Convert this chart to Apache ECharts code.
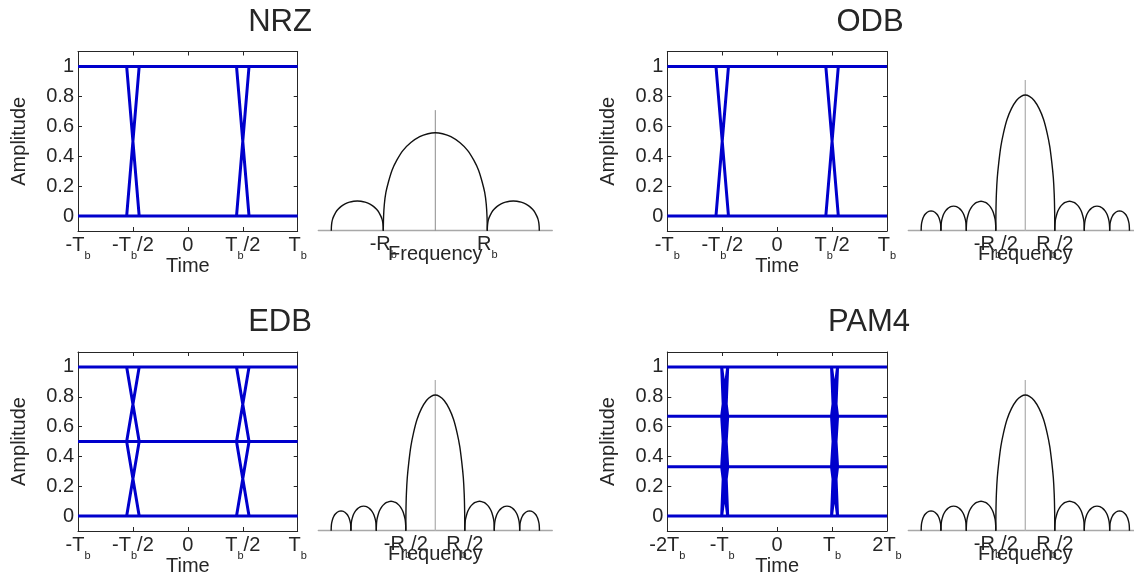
<!DOCTYPE html>
<html><head><meta charset="utf-8">
<script src="https://cdn.jsdelivr.net/npm/echarts@6/dist/echarts.min.js"></script>
<style>html,body{margin:0;padding:0;background:#fff}#c{width:1134px;height:579px}</style>
</head><body><div id="c"></div>
<script>
// ---------------- data ----------------
const panelTitles = ['NRZ', 'ODB', 'EDB', 'PAM4'];

const eyeYTicks = [0, 0.2, 0.4, 0.6, 0.8, 1];
const eyeYTickLabels = ['0', '0.2', '0.4', '0.6', '0.8', '1'];
const eyeXTicks = [-1, -0.5, 0, 0.5, 1];
const eyeXTickLabels = ['{m|-T}{s|b}', '{m|-T}{s|b}{m|/2}', '{m|0}', '{m|T}{s|b}{m|/2}', '{m|T}{s|b}'];
const pamXTicks = [-2, -1, 0, 1, 2];
const pamXTickLabels = ['{m|-2T}{s|b}', '{m|-T}{s|b}', '{m|0}', '{m|T}{s|b}', '{m|2T}{s|b}'];

// eye diagrams: signal levels, crossing times, half transition width
const nrzLevels = [0, 1];
const odbLevels = [0, 1];
const edbLevels = [0, 0.5, 1];
const pamLevels = [0, 0.33, 0.67, 1];
const nrzEdges = [-0.5, 0.5];
const odbEdges = [-0.5, 0.5];
const edbEdges = [-0.5, 0.5];
const pamEdges = [-0.955, 1.045];
const nrzHalfRise = 0.057;
const odbHalfRise = 0.057;
const edbHalfRise = 0.057;
const pamHalfRise = 0.055;

// spectra: lobes as [start, end, peak height]
const nrzSpecTicks = [-1, 1];
const nrzSpecLabels = ['{m|-R}{s|b}', '{m|R}{s|b}'];
const duoSpecTicks = [-0.5, 0.5];
const duoSpecLabels = ['{m|-R}{s|b}{m|/2}', '{m|R}{s|b}{m|/2}'];
const nrzLobes = [[-2, -1, 0.197], [-1, 1, 0.65], [1, 2, 0.197]];
const duoLobes = [[-1.765, -1.43, 0.131], [-1.43, -1.0, 0.163], [-1.0, -0.5, 0.195],
                  [-0.5, 0.5, 0.9],
                  [0.5, 1.0, 0.195], [1.0, 1.43, 0.163], [1.43, 1.765, 0.131]];
// lobe outline (left half, position across lobe 0..0.5, relative height)
const archT = [0, 0.0025, 0.01, 0.025, 0.05, 0.085, 0.13, 0.19, 0.265, 0.35, 0.43, 0.5];
const archH = [0, 0.14, 0.27, 0.39, 0.5, 0.62, 0.72, 0.82, 0.9, 0.96, 0.99, 1];
const nrzCenterLineTop = 0.8;
const duoCenterLineTop = 1.0;
const nrzSpecRange = [-2.25, 2.25];
const duoSpecRange = [-1.983, 1.983];

// ---------------- styling / layout ----------------
const FONT = "'Liberation Sans', Arial, Helvetica, sans-serif";
const INK = '#262626';
const BLUE = '#0000cc';

const eyeGrids = [
  {left: 78, top: 51.5, width: 219.7, height: 179.5},
  {left: 667.3, top: 51.5, width: 219.7, height: 179.5},
  {left: 78, top: 352, width: 219.7, height: 179},
  {left: 667.3, top: 352, width: 219.7, height: 179}
];
const specGrids = [
  {left: 318.3, top: 80, width: 234, height: 150.7},
  {left: 908.3, top: 80, width: 234, height: 150.7},
  {left: 318.3, top: 380, width: 234, height: 150.7},
  {left: 908.3, top: 380, width: 234, height: 150.7}
];
const titlePos = [[280, 7], [870, 7], [280, 307], [869, 307]];

const RICH = {
  m: {fontSize: 20, lineHeight: 20, fontFamily: FONT, color: INK, verticalAlign: 'top'},
  s: {fontSize: 11, lineHeight: 11, fontFamily: FONT, color: INK, verticalAlign: 'top', padding: [15, 0, 0, 0]}
};

function pick(ticks, labels, v) {
  for (let i = 0; i < ticks.length; i++) if (Math.abs(ticks[i] - v) < 1e-9) return labels[i];
  return '';
}

const eyePanels = [
  {levels: nrzLevels, edges: nrzEdges, w: nrzHalfRise, adjOnly: true, range: [-1, 1], ticks: eyeXTicks, labels: eyeXTickLabels},
  {levels: odbLevels, edges: odbEdges, w: odbHalfRise, adjOnly: true, range: [-1, 1], ticks: eyeXTicks, labels: eyeXTickLabels},
  {levels: edbLevels, edges: edbEdges, w: edbHalfRise, adjOnly: true, range: [-1, 1], ticks: eyeXTicks, labels: eyeXTickLabels},
  {levels: pamLevels, edges: pamEdges, w: pamHalfRise, adjOnly: false, range: [-2, 2], ticks: pamXTicks, labels: pamXTickLabels}
];
const specPanels = [
  {lobes: nrzLobes, range: nrzSpecRange, ticks: nrzSpecTicks, labels: nrzSpecLabels, cl: nrzCenterLineTop, clColor: '#8c8c8c', clW: 1},
  {lobes: duoLobes, range: duoSpecRange, ticks: duoSpecTicks, labels: duoSpecLabels, cl: duoCenterLineTop, clColor: '#b4b4b4', clW: 1.3},
  {lobes: duoLobes, range: duoSpecRange, ticks: duoSpecTicks, labels: duoSpecLabels, cl: duoCenterLineTop, clColor: '#b4b4b4', clW: 1.3},
  {lobes: duoLobes, range: duoSpecRange, ticks: duoSpecTicks, labels: duoSpecLabels, cl: duoCenterLineTop, clColor: '#b4b4b4', clW: 1.3}
];

const grid = [], xAxis = [], yAxis = [], series = [], title = [];
const GAP = ['-', '-'];

panelTitles.forEach((t, i) => {
  title.push({text: t, left: titlePos[i][0], top: titlePos[i][1], textAlign: 'center', padding: 0,
    textStyle: {fontSize: 31, lineHeight: 31, fontWeight: 'normal', fontFamily: FONT, color: INK}});
});

eyePanels.forEach((p, i) => {
  const gi = grid.length;
  grid.push(Object.assign({outerBoundsMode: 'none', containLabel: false}, eyeGrids[i]));
  const xb = xAxis.length;
  const tickStyle = {show: true, inside: true, length: 4, lineStyle: {color: INK, width: 1}};
  xAxis.push({type: 'value', gridIndex: gi, position: 'bottom', min: p.range[0], max: p.range[1],
    axisLine: {show: true, onZero: false, lineStyle: {color: INK, width: 1}},
    axisTick: Object.assign({customValues: p.ticks}, tickStyle),
    axisLabel: {show: true, customValues: p.ticks, formatter: v => pick(p.ticks, p.labels, v), margin: 4,
      fontSize: 20, fontFamily: FONT, color: INK, rich: RICH},
    splitLine: {show: false},
    name: 'Time', nameLocation: 'middle', nameGap: 25, nameMoveOverlap: false,
    nameTextStyle: {fontSize: 20, lineHeight: 20, fontFamily: FONT, color: INK}});
  xAxis.push({type: 'value', gridIndex: gi, position: 'top', min: p.range[0], max: p.range[1],
    axisLine: {show: true, onZero: false, lineStyle: {color: INK, width: 1}},
    axisTick: Object.assign({customValues: p.ticks}, tickStyle),
    axisLabel: {show: false}, splitLine: {show: false}});
  const yl = yAxis.length;
  yAxis.push({type: 'value', gridIndex: gi, position: 'left', min: -0.1, max: 1.1,
    axisLine: {show: true, onZero: false, lineStyle: {color: INK, width: 1}},
    axisTick: Object.assign({customValues: eyeYTicks}, tickStyle),
    axisLabel: {show: true, customValues: eyeYTicks, formatter: v => pick(eyeYTicks, eyeYTickLabels, v), margin: 4,
      fontSize: 20, fontFamily: FONT, color: INK},
    splitLine: {show: false},
    name: 'Amplitude', nameLocation: 'middle', nameGap: 49, nameMoveOverlap: false,
    nameTextStyle: {fontSize: 20, lineHeight: 20, fontFamily: FONT, color: INK}});
  yAxis.push({type: 'value', gridIndex: gi, position: 'right', min: -0.1, max: 1.1,
    axisLine: {show: true, onZero: false, lineStyle: {color: INK, width: 1}},
    axisTick: Object.assign({customValues: eyeYTicks}, tickStyle),
    axisLabel: {show: false}, splitLine: {show: false}});

  // horizontal level lines
  const hData = [];
  p.levels.forEach(L => { hData.push([p.range[0], L], [p.range[1], L], GAP); });
  series.push({type: 'line', xAxisIndex: xb, yAxisIndex: yl, data: hData, showSymbol: false, connectNulls: false,
    lineStyle: {color: BLUE, width: 3}, silent: true, animation: false, z: 3});
  // transitions
  const tData = [];
  p.edges.forEach(c => {
    for (let a = 0; a < p.levels.length; a++) for (let b = 0; b < p.levels.length; b++) {
      if (a === b) continue;
      if (p.adjOnly && Math.abs(a - b) !== 1) continue;
      tData.push([c - p.w, p.levels[a]], [c + p.w, p.levels[b]], GAP);
    }
  });
  series.push({type: 'line', xAxisIndex: xb, yAxisIndex: yl, data: tData, showSymbol: false, connectNulls: false,
    lineStyle: {color: BLUE, width: 3}, silent: true, animation: false, z: 3});
});

specPanels.forEach((p, i) => {
  const gi = grid.length;
  grid.push(Object.assign({outerBoundsMode: 'none', containLabel: false}, specGrids[i]));
  const xi = xAxis.length, yi = yAxis.length;
  xAxis.push({type: 'value', gridIndex: gi, position: 'bottom', min: p.range[0], max: p.range[1],
    axisLine: {show: true, onZero: false, lineStyle: {color: '#a8a8a8', width: 1.3}},
    axisTick: {show: false},
    axisLabel: {show: true, customValues: p.ticks, formatter: v => pick(p.ticks, p.labels, v), margin: 4,
      fontSize: 20, fontFamily: FONT, color: INK, rich: RICH},
    splitLine: {show: false},
    name: 'Frequency', nameLocation: 'middle', nameGap: 14, nameMoveOverlap: false,
    nameTextStyle: {fontSize: 20, lineHeight: 20, fontFamily: FONT, color: INK}});
  yAxis.push({type: 'value', gridIndex: gi, min: 0, max: 1, show: false});
  series.push({type: 'line', xAxisIndex: xi, yAxisIndex: yi, data: [[0, 0], [0, p.cl]], showSymbol: false,
    lineStyle: {color: p.clColor, width: p.clW}, silent: true, animation: false, z: 2});
  p.lobes.forEach(lobe => {
    const [s, e, pk] = lobe;
    const span = e - s;
    const d = [];
    for (let k = 0; k < archT.length; k++) d.push([s + archT[k] * span, pk * archH[k]]);
    for (let k = archT.length - 2; k >= 0; k--) d.push([s + (1 - archT[k]) * span, pk * archH[k]]);
    series.push({type: 'line', xAxisIndex: xi, yAxisIndex: yi, data: d, showSymbol: false, smooth: 0.25,
      lineStyle: {color: '#111', width: 1.4}, silent: true, animation: false, z: 3});
  });
});

const chart = echarts.init(document.getElementById('c'), null, {renderer: 'canvas'});
chart.setOption({backgroundColor: '#fff', animation: false, title, grid, xAxis, yAxis, series});
</script>
</body></html>
